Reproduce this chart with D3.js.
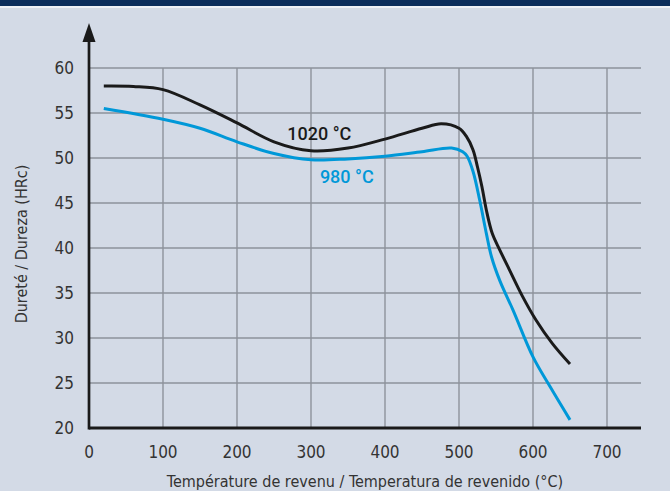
<!DOCTYPE html>
<html>
<head>
<meta charset="utf-8">
<script src="https://cdn.jsdelivr.net/npm/d3@7"></script>
<style>
  html, body { margin: 0; padding: 0; background: #d3dae6; }
  svg { display: block; }
  .tick-label { font-family: "Liberation Sans Narrow", "DejaVu Sans Condensed", "Liberation Sans", sans-serif; fill: #333; }
</style>
</head>
<body>
<div id="chart"></div>
<script>
// Hardness vs tempering temperature
const xTicks = [0, 100, 200, 300, 400, 500, 600, 700];
const yTicks = [20, 25, 30, 35, 40, 45, 50, 55, 60];

const temps1020 = [20, 60, 100, 150, 200, 250, 300, 350, 400, 450, 476, 500, 510, 519, 525, 531, 537, 545, 555, 568, 586, 604, 626, 650];
const hrc1020 = [58.0, 57.95, 57.6, 55.9, 53.9, 51.8, 50.8, 51.1, 52.1, 53.3, 53.8, 53.3, 52.4, 50.9, 49.0, 46.8, 44.2, 41.6, 39.8, 37.6, 34.6, 32.0, 29.4, 27.1];

const temps980 = [20, 100, 150, 200, 250, 300, 350, 400, 450, 490, 505, 511, 519, 528, 537, 544, 555, 573, 600, 623, 650];
const hrc980 = [55.5, 54.3, 53.3, 51.8, 50.5, 49.8, 49.9, 50.2, 50.7, 51.1, 50.7, 50.2, 48.5, 45.3, 41.6, 39.0, 36.4, 33.1, 27.9, 24.6, 20.9];

const W = 670, H = 491;
const svg = d3.select("#chart").append("svg")
  .attr("width", W).attr("height", H);

// header band
svg.append("rect").attr("x", 0).attr("y", 0).attr("width", W).attr("height", 6).attr("fill", "#0b2d5b");
svg.append("rect").attr("x", 0).attr("y", 6).attr("width", W).attr("height", 2).attr("fill", "#eef1f6");

const x = d3.scaleLinear().domain([0, 700]).range([89, 607]);
const y = d3.scaleLinear().domain([20, 60]).range([428, 68]);
const xEnd = 641;

// grid
svg.append("g").selectAll("line.h")
  .data(yTicks.filter(d => d > 20))
  .join("line")
  .attr("x1", x(0)).attr("x2", xEnd)
  .attr("y1", d => y(d)).attr("y2", d => y(d))
  .attr("stroke", "#8d929b").attr("stroke-width", 1.4);

svg.append("g").selectAll("line.v")
  .data(xTicks.filter(d => d > 0))
  .join("line")
  .attr("x1", d => x(d)).attr("x2", d => x(d))
  .attr("y1", y(20)).attr("y2", y(60))
  .attr("stroke", "#8d929b").attr("stroke-width", 1.4);

// axes
svg.append("line")
  .attr("x1", x(0)).attr("x2", xEnd)
  .attr("y1", y(20)).attr("y2", y(20))
  .attr("stroke", "#1a1a1a").attr("stroke-width", 3);

svg.append("line")
  .attr("x1", x(0)).attr("x2", x(0))
  .attr("y1", y(20) + 1.5).attr("y2", 40)
  .attr("stroke", "#1a1a1a").attr("stroke-width", 2.7);

svg.append("path")
  .attr("d", `M${x(0)},23 L${x(0) - 6.5},42 L${x(0) + 6.5},42 Z`)
  .attr("fill", "#1a1a1a");

// tick labels
svg.append("g").selectAll("text")
  .data(yTicks)
  .join("text")
  .attr("class", "tick-label")
  .attr("x", 74)
  .attr("y", d => y(d))
  .attr("dy", "0.36em")
  .attr("text-anchor", "end")
  .style("font-size", "17px")
  .text(d => d);

svg.append("g").selectAll("text")
  .data(xTicks)
  .join("text")
  .attr("class", "tick-label")
  .attr("x", d => x(d))
  .attr("y", 458)
  .attr("text-anchor", "middle")
  .style("font-size", "17px")
  .text(d => d);

// axis titles
svg.append("text")
  .attr("class", "tick-label")
  .attr("x", 365).attr("y", 487)
  .attr("text-anchor", "middle")
  .style("font-size", "16px")
  .text("Température de revenu / Temperatura de revenido (°C)");

svg.append("text")
  .attr("class", "tick-label")
  .attr("transform", "translate(27,244) rotate(-90)")
  .attr("text-anchor", "middle")
  .style("font-size", "16px")
  .text("Dureté / Dureza (HRc)");

// curves
const line = d3.line()
  .x(d => x(d[0]))
  .y(d => y(d[1]))
  .curve(d3.curveCatmullRom.alpha(0.5));

svg.append("path")
  .datum(d3.zip(temps980, hrc980))
  .attr("fill", "none")
  .attr("stroke", "#0098d8")
  .attr("stroke-width", 3)
  .attr("d", line);

svg.append("path")
  .datum(d3.zip(temps1020, hrc1020))
  .attr("fill", "none")
  .attr("stroke", "#1a1a1a")
  .attr("stroke-width", 3)
  .attr("d", line);

// series labels
svg.append("text")
  .attr("x", x(268)).attr("y", 140)
  .style("font-family", "Roboto, 'Liberation Sans', sans-serif")
  .style("font-weight", 500)
  .style("font-size", "18px")
  .attr("fill", "#1a1a1a")
  .text("1020 °C");

svg.append("text")
  .attr("x", x(312)).attr("y", 183)
  .style("font-family", "Roboto, 'Liberation Sans', sans-serif")
  .style("font-weight", 500)
  .style("font-size", "18px")
  .attr("fill", "#0098d8")
  .text("980 °C");
</script>
</body>
</html>
